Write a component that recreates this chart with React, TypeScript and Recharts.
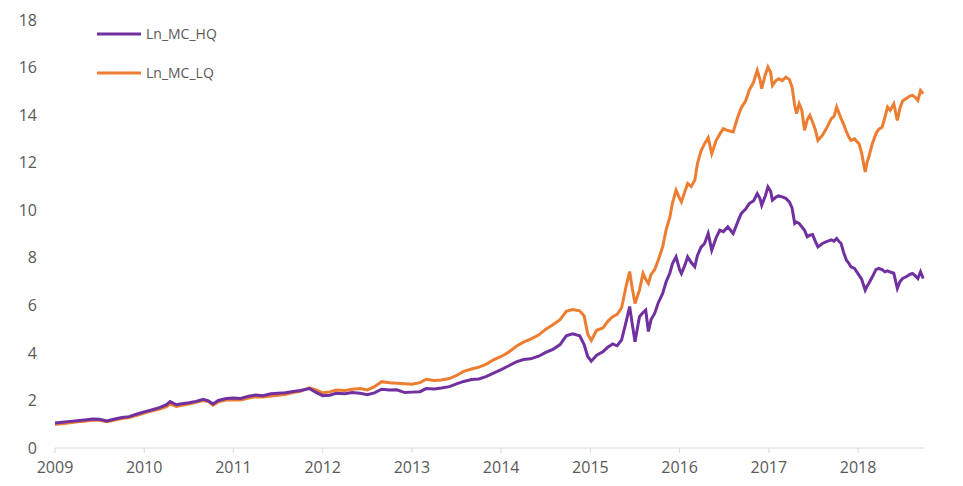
import { LineChart, Line, XAxis, YAxis } from 'recharts';

// fractional years
const dates = [
  2009.0, 2009.08, 2009.17, 2009.25, 2009.33, 2009.42, 2009.5, 2009.58, 2009.67, 2009.75, 2009.83, 2009.92,
  2010.0, 2010.08, 2010.17, 2010.25, 2010.29, 2010.36, 2010.42, 2010.5, 2010.58, 2010.66, 2010.72, 2010.77, 2010.83, 2010.92,
  2011.0, 2011.08, 2011.17, 2011.25, 2011.33, 2011.42, 2011.5, 2011.58, 2011.67, 2011.75, 2011.85, 2011.92,
  2012.0, 2012.08, 2012.15, 2012.25, 2012.33, 2012.42, 2012.5, 2012.58, 2012.66, 2012.75, 2012.83, 2012.92,
  2013.0, 2013.09, 2013.16, 2013.25, 2013.33, 2013.42, 2013.5, 2013.58, 2013.67, 2013.75, 2013.83, 2013.92,
  2014.0, 2014.08, 2014.17, 2014.25, 2014.33, 2014.42, 2014.5, 2014.58, 2014.66, 2014.73, 2014.8, 2014.88, 2014.93, 2014.97,
  2015.01, 2015.07, 2015.14, 2015.2, 2015.25, 2015.3, 2015.35, 2015.4, 2015.44, 2015.47, 2015.5, 2015.55, 2015.59, 2015.62,
  2015.65, 2015.68, 2015.72, 2015.76, 2015.81, 2015.85, 2015.89, 2015.92, 2015.96,
  2016.0, 2016.02, 2016.06, 2016.09, 2016.13, 2016.17, 2016.2, 2016.24, 2016.28, 2016.32, 2016.36, 2016.41, 2016.45, 2016.49,
  2016.54, 2016.6, 2016.65, 2016.69, 2016.74, 2016.78, 2016.83, 2016.87, 2016.9, 2016.92, 2016.96, 2016.99,
  2017.02, 2017.04, 2017.08, 2017.11, 2017.15, 2017.19, 2017.23, 2017.26, 2017.29, 2017.31, 2017.34, 2017.37, 2017.4, 2017.43,
  2017.46, 2017.49, 2017.52, 2017.55, 2017.6, 2017.64, 2017.7, 2017.73, 2017.76, 2017.79, 2017.81, 2017.84, 2017.87, 2017.9,
  2017.92, 2017.96, 2018.01, 2018.04, 2018.08, 2018.1, 2018.12, 2018.16, 2018.2, 2018.23, 2018.27, 2018.3, 2018.33, 2018.36,
  2018.4, 2018.44, 2018.47, 2018.5, 2018.54, 2018.58, 2018.61, 2018.64, 2018.67, 2018.7, 2018.73,
];

const hq = [
  1.05, 1.08, 1.12, 1.15, 1.18, 1.22, 1.21, 1.14, 1.22, 1.28, 1.32, 1.43,
  1.52, 1.6, 1.7, 1.82, 1.95, 1.82, 1.86, 1.9, 1.96, 2.05, 1.98, 1.85, 2.0, 2.08,
  2.1, 2.08, 2.18, 2.23, 2.2, 2.28, 2.3, 2.32, 2.38, 2.42, 2.5, 2.35,
  2.2, 2.22, 2.3, 2.28, 2.33, 2.3, 2.24, 2.32, 2.47, 2.44, 2.45, 2.33,
  2.35, 2.37, 2.5, 2.48, 2.52, 2.58, 2.7, 2.8, 2.88, 2.9, 3.0, 3.16,
  3.3, 3.45, 3.62, 3.72, 3.75, 3.86, 4.02, 4.15, 4.35, 4.72, 4.8, 4.72, 4.35, 3.85,
  3.65, 3.9, 4.05, 4.25, 4.38, 4.3, 4.55, 5.3, 5.95, 5.2, 4.47, 5.52, 5.7, 5.8,
  4.9, 5.4, 5.66, 6.1, 6.5, 7.0, 7.35, 7.76, 8.04,
  7.5, 7.34, 7.7, 8.04, 7.8, 7.62, 8.1, 8.45, 8.6, 9.02, 8.32, 8.85, 9.16, 9.1,
  9.3, 9.02, 9.5, 9.86, 10.05, 10.28, 10.4, 10.7, 10.5, 10.21, 10.6, 10.98,
  10.8, 10.42, 10.55, 10.6, 10.56, 10.5, 10.35, 10.1, 9.44, 9.5, 9.44, 9.3, 9.16, 8.88,
  8.95, 8.98, 8.7, 8.46, 8.6, 8.67, 8.75, 8.7, 8.81, 8.67, 8.6, 8.2, 7.9, 7.75,
  7.62, 7.55, 7.27, 7.1, 6.64, 6.8, 6.92, 7.2, 7.5, 7.55, 7.5, 7.41, 7.45, 7.4,
  7.35, 6.71, 7.0, 7.13, 7.2, 7.3, 7.34, 7.25, 7.13, 7.41, 7.13,
];

const lq = [
  1.0, 1.02, 1.06, 1.1, 1.12, 1.17, 1.17, 1.11, 1.18, 1.24, 1.28, 1.38,
  1.47, 1.55, 1.64, 1.74, 1.86, 1.75, 1.8, 1.85, 1.92, 2.0, 1.95, 1.8, 1.94, 2.02,
  2.03, 2.02, 2.1, 2.15, 2.14, 2.19, 2.22, 2.25, 2.33, 2.38, 2.53, 2.45,
  2.32, 2.36, 2.44, 2.42, 2.47, 2.5, 2.44, 2.58, 2.79, 2.74, 2.72, 2.7,
  2.68, 2.75, 2.89, 2.84, 2.86, 2.92, 3.05, 3.22, 3.32, 3.4, 3.52, 3.72,
  3.85, 4.02, 4.28, 4.45, 4.58, 4.75, 5.0, 5.18, 5.4, 5.75, 5.82, 5.77, 5.55, 4.8,
  4.52, 4.95, 5.05, 5.35, 5.52, 5.62, 5.9, 6.8, 7.42, 6.7, 6.08, 6.64, 7.34, 7.1,
  6.92, 7.3, 7.5, 7.9, 8.46, 9.2, 9.7, 10.3, 10.84,
  10.5, 10.35, 10.8, 11.12, 11.0, 11.26, 11.96, 12.5, 12.8, 13.05, 12.38, 12.94, 13.2, 13.43,
  13.35, 13.29, 13.9, 14.3, 14.6, 15.04, 15.4, 15.88, 15.5, 15.11, 15.7, 16.02,
  15.8, 15.25, 15.45, 15.53, 15.45, 15.6, 15.5, 15.18, 14.4, 14.06, 14.48, 14.2, 13.36, 13.8,
  13.99, 13.71, 13.4, 12.94, 13.15, 13.4, 13.85, 13.95, 14.34, 14.05, 13.85, 13.6, 13.29, 13.05,
  12.94, 13.0, 12.8, 12.4, 11.61, 12.0, 12.24, 12.8, 13.22, 13.4, 13.5, 13.9, 14.34, 14.2,
  14.48, 13.78, 14.3, 14.6, 14.7, 14.8, 14.83, 14.75, 14.62, 15.04, 14.9,
];

const yearTicks = [2009, 2010, 2011, 2012, 2013, 2014, 2015, 2016, 2017, 2018];
const valueTicks = [0, 2, 4, 6, 8, 10, 12, 14, 16, 18];

const seriesNames = { hq: 'Ln_MC_HQ', lq: 'Ln_MC_LQ' };
const PURPLE = '#7030A0';
const ORANGE = '#ED7D31';

const data = dates.map((t, i) => ({ t, hq: hq[i], lq: lq[i] }));

const FONT = '"Open Sans", sans-serif';

function LegendBox() {
  const items = [
    { name: seriesNames.hq, color: PURPLE },
    { name: seriesNames.lq, color: ORANGE },
  ];
  return (
    <div style={{ position: 'absolute', left: 88, top: 6, fontFamily: FONT, fontSize: 14, color: '#595959' }}>
      {items.map((it) => (
        <div key={it.name} style={{ display: 'flex', alignItems: 'center', height: 39 }}>
          <svg width={46} height={6} style={{ marginRight: 4 }}>
            <line x1={1} y1={3} x2={45} y2={3} stroke={it.color} strokeWidth={3} />
          </svg>
          <span>{it.name}</span>
        </div>
      ))}
    </div>
  );
}

export default function App() {
  return (
    <div style={{ position: 'relative', width: 955, height: 478 }}>
      <LineChart
        width={955}
        height={478}
        data={data}
        margin={{ top: 12, right: 38, bottom: 8, left: 7 }}
      >
        <XAxis
          dataKey="t"
          type="number"
          domain={[2009, 2018.75]}
          ticks={yearTicks}
          allowDataOverflow
          stroke="#D9D9D9"
          tickSize={5}
          tickMargin={9}
          height={30}
          tick={{ fill: '#595959', fontSize: 16, fontFamily: FONT }}
        />
        <YAxis
          domain={[0, 18]}
          ticks={valueTicks}
          axisLine={false}
          tickLine={false}
          tickMargin={12}
          width={40}
          tick={{ fill: '#595959', fontSize: 16, fontFamily: FONT }}
        />
        <Line type="linear" dataKey="lq" name={seriesNames.lq} stroke={ORANGE} strokeWidth={3} dot={false} isAnimationActive={false} />
        <Line type="linear" dataKey="hq" name={seriesNames.hq} stroke={PURPLE} strokeWidth={3} dot={false} isAnimationActive={false} />
      </LineChart>
      <LegendBox />
    </div>
  );
}
